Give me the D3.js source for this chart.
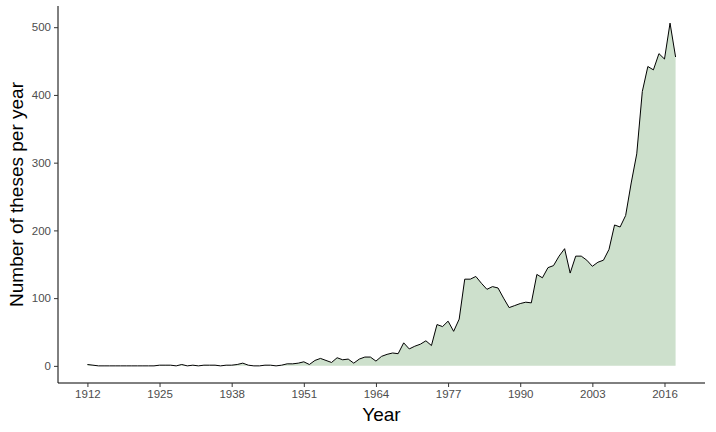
<!DOCTYPE html>
<html><head><meta charset="utf-8">
<script src="https://cdn.jsdelivr.net/npm/d3@7.9.0/dist/d3.min.js"></script>
<style>body{margin:0;background:#fff}svg{font-family:"Liberation Sans",Arial,sans-serif}</style>
</head><body><svg width="716" height="432"></svg>
<script>
const years = d3.range(1912, 2019);
const counts = [
  2, 1, 0, 0, 0, 0, 0, 0, 0, 0, 0, 0, 0, 1, 1, 1, 0, 2, 0, 1,
  0, 1, 1, 1, 0, 1, 1, 2, 4, 1, 0, 0, 1, 1, 0, 1, 3, 3, 4, 6,
  2, 8, 11, 8, 5, 12, 9, 10, 4, 10, 13, 13, 7, 14, 17, 19, 18, 34, 25, 29,
  32, 37, 30, 61, 58, 66, 51, 69, 128, 128, 132, 122, 113, 117, 115, 100, 86, 89, 92, 94,
  93, 135, 130, 145, 148, 162, 173, 137, 162, 162, 156, 147, 153, 156, 172, 208, 205, 222, 270, 313,
  405, 442, 437, 461, 453, 506, 456
];
const yTicks = [0, 100, 200, 300, 400, 500];
const xTicks = [1912, 1925, 1938, 1951, 1964, 1977, 1990, 2003, 2016];

const data = years.map((y, i) => ({ year: y, n: counts[i] }));
const svg = d3.select('svg');
const pLeft = 58, pRight = 705, pTop = 6, pBottom = 383;

const x = d3.scaleLinear().domain([1912 - 5.3, 2018 + 5.3]).range([pLeft, pRight]);
const y = d3.scaleLinear().domain([-25.3, 531.3]).range([pBottom, pTop]);

svg.append('path').datum(data)
  .attr('fill', '#cde0cc')
  .attr('d', d3.area().x(d => x(d.year)).y0(y(0)).y1(d => y(d.n)));
svg.append('path').datum(data)
  .attr('fill', 'none').attr('stroke', '#000').attr('stroke-width', 1)
  .attr('d', d3.line().x(d => x(d.year)).y(d => y(d.n)));

const xAxis = svg.append('g').attr('transform', `translate(0,${pBottom})`)
  .call(d3.axisBottom(x).tickValues(xTicks).tickFormat(d3.format('d')).tickSize(4).tickPadding(3));
const yAxis = svg.append('g').attr('transform', `translate(${pLeft},0)`)
  .call(d3.axisLeft(y).tickValues(yTicks).tickSize(4).tickPadding(3));
xAxis.select('.domain').attr('stroke', '#000').attr('d', `M${pLeft},0H${pRight}`);
yAxis.select('.domain').attr('stroke', '#000').attr('d', `M0,${pTop}V${pBottom}`);
[xAxis, yAxis].forEach(g => {
  g.selectAll('.tick line').attr('stroke', '#333');
  g.selectAll('.tick text').attr('fill', '#4d4d4d').style('font-size', '11.5px');
});

svg.append('text').attr('x', (pLeft + pRight) / 2).attr('y', 421)
  .attr('text-anchor', 'middle').style('font-size', '19px').text('Year');
svg.append('text').attr('transform', `translate(23,${(pTop + pBottom) / 2}) rotate(-90)`)
  .attr('text-anchor', 'middle').style('font-size', '19px').text('Number of theses per year');
</script></body></html>
